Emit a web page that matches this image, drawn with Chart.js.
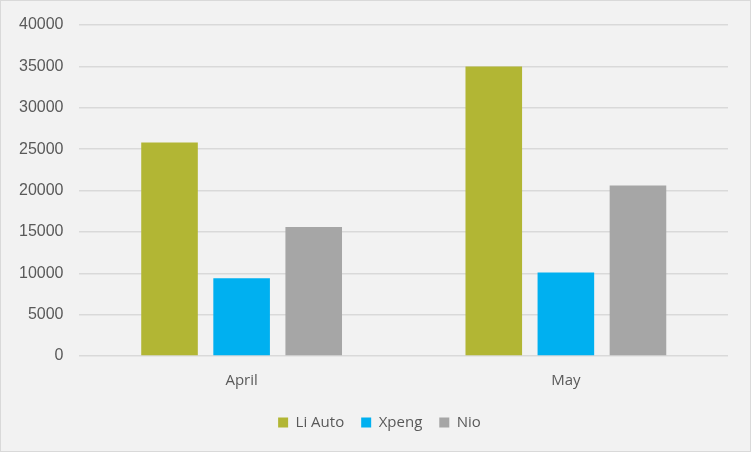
<!DOCTYPE html>
<html>
<head>
<meta charset="utf-8">
<script src="https://cdn.jsdelivr.net/npm/chart.js@4/dist/chart.umd.min.js"></script>
<style>
  html, body { margin: 0; padding: 0; background: #ffffff; }
  #wrap {
    width: 749px; height: 450px;
    border: 1px solid #d9d9d9;
    background: #f2f2f2;
    position: relative;
  }
</style>
</head>
<body>
<div id="wrap"><canvas id="salesChart"></canvas></div>
<script>
// Data
const months = ['April', 'May'];
const liAuto = [25800, 35000];
const xpeng = [9400, 10100];
const nio = [15600, 20600];
const yTicks = [0, 5000, 10000, 15000, 20000, 25000, 30000, 35000, 40000];

const textColor = '#595959';
const gridColor = '#d9d9d9';

// nudge the legend right a bit so it sits like the Excel one
const legendShift = {
    id: 'legendShift',
    afterLayout(chart) {
        if (chart.legend) {
            chart.legend.left += 14;
            chart.legend.right += 14;
        }
    }
};

document.addEventListener('DOMContentLoaded', () => {
    const el = document.getElementById('salesChart');

    new Chart(el, {
        type: 'bar',
        data: {
            labels: months,
            datasets: [
                { label: 'Li Auto', data: liAuto, backgroundColor: '#b2b634' },
                { label: 'Xpeng', data: xpeng, backgroundColor: '#00b0f0' },
                { label: 'Nio', data: nio, backgroundColor: '#a6a6a6' }
            ]
        },
        plugins: [legendShift],
        options: {
            responsive: true,
            maintainAspectRatio: false,
            animation: false,
            datasets: {
                bar: { categoryPercentage: 0.667, barPercentage: 0.785 }
            },
            layout: {
                padding: { top: 8, right: 22, left: 2, bottom: 11 }
            },
            scales: {
                x: {
                    grid: { display: false },
                    border: { display: false },
                    ticks: {
                        color: textColor,
                        padding: 8,
                        font: { family: 'Open Sans', size: 15 }
                    }
                },
                y: {
                    min: 0,
                    max: 40000,
                    afterBuildTicks: (axis) => {
                        axis.ticks = yTicks.map(v => ({ value: v }));
                    },
                    grid: { color: gridColor, lineWidth: 1.5, drawTicks: false },
                    border: { display: false },
                    ticks: {
                        color: textColor,
                        padding: 16,
                        callback: (v) => String(v),
                        font: { family: 'Liberation Sans', size: 16, lineHeight: 1 }
                    }
                }
            },
            plugins: {
                legend: {
                    position: 'bottom',
                    labels: {
                        color: textColor,
                        boxWidth: 10,
                        boxHeight: 10,
                        padding: 17,
                        font: { family: 'Open Sans', size: 15 }
                    }
                },
                tooltip: { enabled: false }
            }
        }
    });
});
</script>
</body>
</html>
